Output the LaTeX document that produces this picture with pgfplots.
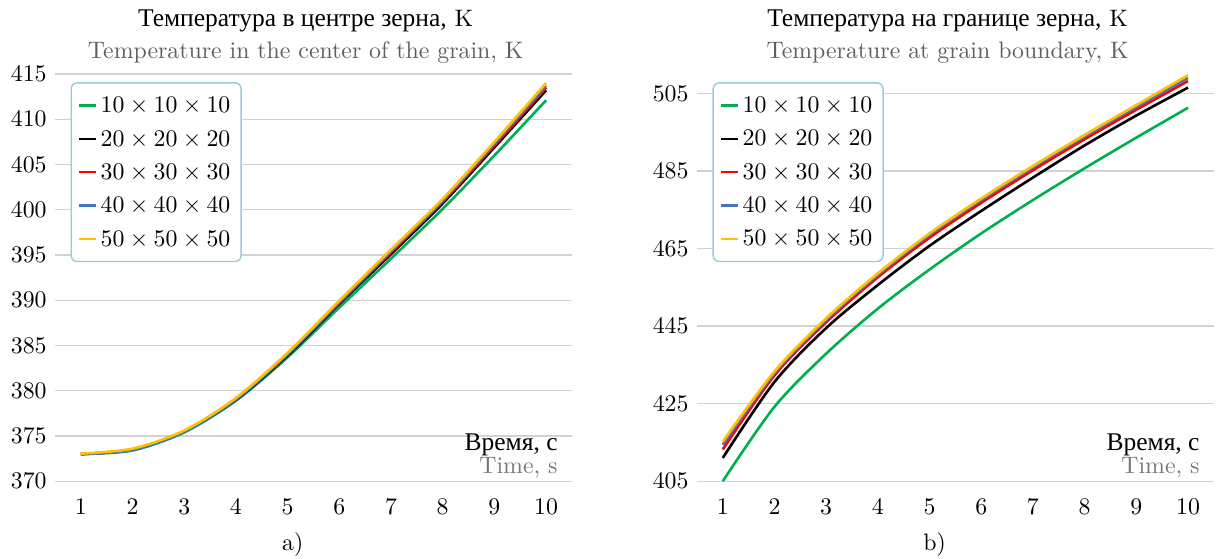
\documentclass[border=0pt]{standalone}
\usepackage{fontspec}
\newfontfamily\cyr[Scale=1.07]{Liberation Serif}
\usepackage{pgfplots}
\usepackage{pgfplotstable}
\pgfplotsset{compat=1.18}
\definecolor{cgreen}{RGB}{0,176,80}
\definecolor{cred}{RGB}{255,0,0}
\definecolor{cblue}{RGB}{68,114,196}
\definecolor{cgold}{RGB}{255,192,0}
\definecolor{gridgray}{RGB}{210,210,210}
\definecolor{legborder}{RGB}{150,205,215}
\definecolor{subgray}{RGB}{95,95,95}
\definecolor{timegray}{RGB}{120,120,120}

\pgfplotstableread{
x green black red blue gold
1 373.0 373.0 373.0 373.0 373.05
2 373.4 373.5 373.5 373.45 373.6
3 375.4 375.5 375.5 375.45 375.6
4 378.9 379.0 379.05 379.05 379.2
5 383.7 383.9 384.0 384.05 384.2
6 389.2 389.6 389.7 389.8 389.95
7 394.6 395.1 395.3 395.4 395.6
8 400.1 400.7 400.9 401.0 401.2
9 406.0 406.9 407.1 407.3 407.5
10 412.1 413.2 413.5 413.7 414.0
}\centerdata

\pgfplotstableread{
x green black red blue gold
1 405.0 411.0 413.2 414.4 415.2
2 424.2 430.6 432.3 432.9 433.3
3 437.9 444.5 446.0 446.6 447.0
4 449.5 455.6 457.6 458.2 458.6
5 459.6 465.7 467.8 468.5 468.9
6 468.9 474.7 476.8 477.5 477.9
7 477.5 483.3 485.2 485.9 486.3
8 485.7 491.6 493.2 493.9 494.3
9 493.6 499.3 500.8 501.5 502.0
10 501.3 506.5 508.2 509.0 509.7
}\boundarydata

\pgfplotsset{
  myaxis/.style={
    scale only axis,
    width=217.1pt, height=171pt,
    anchor=south west,
    xmin=0.5, xmax=10.5,
    xtick={1,...,10},
    axis line style={draw=none},
    major tick length=0pt,
    ymajorgrids,
    grid style={line width=0.5pt, gridgray},
    tick label style={font=\fontsize{10}{12}\selectfont},
    xticklabel style={yshift=-3.8pt},
    clip=false,
    every axis plot/.append style={line width=1.1pt, smooth, tension=0.5},
    legend style={
      at={(0.03,0.98)}, anchor=north west,
      draw=legborder, line width=0.6pt, rounded corners=2.5pt,
      font=\fontsize{10}{12}\selectfont,
      inner xsep=3pt, inner ysep=4pt,
      row sep=3pt,
      nodes={inner sep=1.5pt, text height=7pt, text depth=1pt},
      cells={anchor=west},
    },
    legend image code/.code={\draw[#1, line width=0.9pt] (0pt,0pt) -- (7pt,0pt);},
  }
}

\begin{document}
\begin{tikzpicture}[x=1pt,y=1pt]
\path[use as bounding box] (0,0) rectangle (510.7,234.4);

\begin{axis}[myaxis, at={(23.1pt,32.3pt)},
  ymin=370, ymax=415, ytick={370,375,...,415}]
  \addplot[cgreen] table[x=x,y=green] {\centerdata};
  \addlegendentry{$10\times10\times10$}
  \addplot[black] table[x=x,y=black] {\centerdata};
  \addlegendentry{$20\times20\times20$}
  \addplot[cred] table[x=x,y=red] {\centerdata};
  \addlegendentry{$30\times30\times30$}
  \addplot[cblue] table[x=x,y=blue] {\centerdata};
  \addlegendentry{$40\times40\times40$}
  \addplot[cgold] table[x=x,y=gold] {\centerdata};
  \addlegendentry{$50\times50\times50$}
  \node[anchor=base, font=\fontsize{10}{12}\selectfont] at (rel axis cs:0.485,1) [yshift=19.9pt] {{\cyr Температура в центре зерна,} K};
  \node[anchor=base, font=\fontsize{10}{12}\selectfont, text=subgray] at (rel axis cs:0.485,1) [yshift=6.7pt] {Temperature in the center of the grain, K};
  \node[anchor=base east, font=\fontsize{10}{12}\selectfont] at (rel axis cs:1,0) [xshift=-2.5pt, yshift=12.7pt] {\cyr Время, с};
  \node[anchor=base east, font=\fontsize{10}{12}\selectfont, text=timegray] at (rel axis cs:1,0) [xshift=-2.5pt, yshift=3.4pt] {Time, s};
  \node[anchor=base, font=\fontsize{10}{12}\selectfont] at (rel axis cs:0.46,0) [yshift=-29pt] {a)};
\end{axis}

\begin{axis}[myaxis, at={(292.7pt,32.3pt)},
  ymin=405, ymax=510, ytick={405,425,...,505}]
  \addplot[cgreen] table[x=x,y=green] {\boundarydata};
  \addlegendentry{$10\times10\times10$}
  \addplot[black] table[x=x,y=black] {\boundarydata};
  \addlegendentry{$20\times20\times20$}
  \addplot[cred] table[x=x,y=red] {\boundarydata};
  \addlegendentry{$30\times30\times30$}
  \addplot[cblue] table[x=x,y=blue] {\boundarydata};
  \addlegendentry{$40\times40\times40$}
  \addplot[cgold] table[x=x,y=gold] {\boundarydata};
  \addlegendentry{$50\times50\times50$}
  \node[anchor=base, font=\fontsize{10}{12}\selectfont] at (rel axis cs:0.485,1) [yshift=19.9pt] {{\cyr Температура на границе зерна,} K};
  \node[anchor=base, font=\fontsize{10}{12}\selectfont, text=subgray] at (rel axis cs:0.485,1) [yshift=6.7pt] {Temperature at grain boundary, K};
  \node[anchor=base east, font=\fontsize{10}{12}\selectfont] at (rel axis cs:1,0) [xshift=-2.5pt, yshift=12.7pt] {\cyr Время, с};
  \node[anchor=base east, font=\fontsize{10}{12}\selectfont, text=timegray] at (rel axis cs:1,0) [xshift=-2.5pt, yshift=3.4pt] {Time, s};
  \node[anchor=base, font=\fontsize{10}{12}\selectfont] at (rel axis cs:0.46,0) [yshift=-29pt] {b)};
\end{axis}
\end{tikzpicture}
\end{document}
